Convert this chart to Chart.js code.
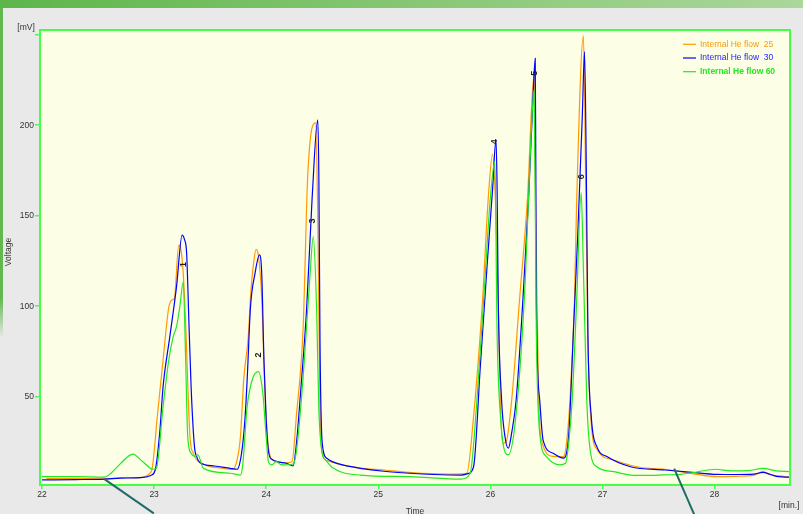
<!DOCTYPE html>
<html>
<head>
<meta charset="utf-8">
<script src="https://cdn.jsdelivr.net/npm/chart.js@4/dist/chart.umd.min.js"></script>
<style>
  html, body { margin: 0; padding: 0; width: 803px; height: 514px; overflow: hidden; background: #e9e9e9; }
  #band { position: absolute; left: 0; top: 0; width: 803px; height: 8px;
          background: linear-gradient(to right, #5db64a, #86c673 50%, #aad79b); }
  #strip { position: absolute; left: 0; top: 8px; width: 3px; height: 330px;
           background: linear-gradient(to bottom, #62b84f 0%, #62b84f 88%, rgba(98,184,79,0) 100%); }
  #wrap { position: absolute; left: 0; top: 0; width: 803px; height: 514px; }
</style>
</head>
<body>
<div id="band"></div>
<div id="strip"></div>
<div id="wrap"><canvas id="chart" width="803" height="514"></canvas></div>
<script>
// Chromatogram: detector voltage vs retention time for three internal He flows

const seriesNames = ['Internal He flow  25', 'Internal He flow  30', 'Internal He flow 60'];

// Internal He flow 25 (orange)
const time25 = [22.04, 22.30, 22.56, 22.70, 22.90, 22.95, 22.98, 23.03, 23.08, 23.13, 23.16, 23.18, 23.22, 23.24, 23.26, 23.28,
  23.32, 23.35, 23.45, 23.60, 23.70, 23.74, 23.77, 23.80, 23.84, 23.86, 23.89, 23.91, 23.93, 23.96, 23.99, 24.02,
  24.06, 24.18, 24.23, 24.27, 24.33, 24.37, 24.44, 24.46, 24.48, 24.50, 24.55, 24.70, 24.84, 25.05, 25.30, 25.60,
  25.75, 25.79, 25.85, 25.93, 25.98, 26.02, 26.05, 26.07, 26.09, 26.11, 26.14, 26.19, 26.26, 26.33, 26.39, 26.405,
  26.43, 26.46, 26.56, 26.65, 26.67, 26.71, 26.75, 26.77, 26.83, 26.85, 26.87, 26.90, 26.95, 27.10, 27.33, 27.56,
  27.80, 28.02, 28.20, 28.35, 28.43, 28.50, 28.57, 28.67];
const flow25 = [4.8, 4.8, 4.6, 5.2, 5.4, 7.0, 9.5, 40, 70.3, 99, 103.4, 104, 133.7, 131, 118, 92.4,
  27.9, 18.7, 12.5, 10.5, 9.8, 15, 27.9, 60, 83, 105.2, 125, 131.4, 128, 105, 50, 22,
  15, 13.5, 14, 40, 88.7, 171.5, 201.4, 150, 42.7, 18.7, 14.5, 12, 10.5, 9.5, 8.0, 7.2,
  7.3, 7.7, 39, 103.4, 158.7, 184, 150, 103, 45, 24.3, 25, 48.2, 103.4, 158.7, 228, 150,
  50, 25, 17, 16.9, 20, 48.2, 103.4, 158.7, 249.3, 170, 80, 35, 21, 15, 11, 9.9,
  7.5, 5.8, 6.0, 6.5, 8.6, 6.8, 6.2, 5.5];

// Internal He flow 30 (blue)
const time30 = [22.00, 22.30, 22.56, 22.70, 22.90, 22.97, 23.01, 23.05, 23.08, 23.14, 23.20, 23.25, 23.27, 23.29, 23.31, 23.33,
  23.36, 23.38, 23.41, 23.54, 23.68, 23.74, 23.78, 23.81, 23.83, 23.86, 23.90, 23.94, 23.96, 23.98, 24.00, 24.02,
  24.05, 24.18, 24.24, 24.27, 24.31, 24.36, 24.41, 24.46, 24.47, 24.48, 24.50, 24.54, 24.59, 24.70, 24.84, 25.05,
  25.28, 25.50, 25.74, 25.80, 25.85, 25.91, 25.97, 26.02, 26.05, 26.06, 26.07, 26.10, 26.13, 26.16, 26.19, 26.23,
  26.29, 26.34, 26.38, 26.40, 26.405, 26.41, 26.44, 26.47, 26.56, 26.65, 26.70, 26.74, 26.78, 26.82, 26.84, 26.855,
  26.87, 26.90, 26.95, 27.04, 27.25, 27.56, 27.80, 28.02, 28.20, 28.35, 28.43, 28.50, 28.57, 28.67];
const flow30 = [4.0, 4.2, 4.5, 5.0, 5.4, 6.5, 9.5, 30, 55.5, 83, 110.8, 139.3, 137, 129.4, 92.4, 55.5,
  22.4, 16.9, 13.5, 11.7, 10.4, 9.9, 18.7, 37.1, 59.2, 99.7, 118, 128.3, 118, 70, 37.1, 20,
  15.4, 13.2, 11.7, 24.3, 55, 97.9, 160, 202.9, 170, 79.5, 24.3, 16, 14.1, 12, 10.4, 8.8,
  7.7, 7.0, 6.7, 7.5, 11.3, 66.6, 121.8, 165, 192.2, 165, 103.4, 48.2, 28, 21.5, 30, 48.2,
  103.4, 158.7, 215, 237, 180, 103.4, 48.2, 26.1, 18.7, 16.0, 29.8, 85, 140.3, 205, 240.6, 180,
  85, 39, 22.4, 16.9, 11.3, 9.5, 8.2, 7.1, 7.0, 7.2, 8.2, 7.0, 5.8, 5.5];

// Internal He flow 60 (green)
const time60 = [22.00, 22.30, 22.56, 22.62, 22.70, 22.81, 22.90, 22.99, 23.02, 23.08, 23.13, 23.17, 23.20, 23.23, 23.26, 23.28,
  23.30, 23.33, 23.36, 23.39, 23.44, 23.68, 23.77, 23.79, 23.83, 23.88, 23.93, 23.97, 24.00, 24.02, 24.05, 24.09,
  24.13, 24.18, 24.24, 24.27, 24.33, 24.39, 24.42, 24.45, 24.47, 24.50, 24.53, 24.60, 24.84, 25.28, 25.74, 25.82,
  25.88, 25.94, 26.00, 26.04, 26.06, 26.09, 26.16, 26.23, 26.31, 26.36, 26.39, 26.41, 26.44, 26.50, 26.62, 26.67,
  26.70, 26.73, 26.77, 26.81, 26.83, 26.86, 26.89, 26.95, 27.10, 27.25, 27.40, 27.55, 27.70, 27.85, 28.01, 28.15,
  28.30, 28.43, 28.55, 28.67];
const flow60 = [5.8, 5.8, 5.6, 8, 13, 18.3, 14, 9.9, 10.4, 44.5, 70, 83.1, 88.7, 100, 113.5, 74,
  27.9, 18.7, 17, 17.8, 10.4, 7.7, 6.7, 12, 44.5, 60.2, 63.8, 51.9, 27.9, 14, 12.3, 14.1,
  12.5, 12.3, 12.8, 20, 61, 116.3, 138.4, 97.9, 42.7, 18.7, 15, 10.4, 6.7, 5.8, 4.5, 7.7,
  48.2, 103.4, 160, 180, 85, 39, 17.8, 40.8, 112.7, 190, 219.4, 85, 29.8, 16.9, 12.3, 13.2,
  25, 48.2, 103.4, 162.7, 120, 48.2, 20.7, 11.3, 8.6, 6.7, 6.5, 6.8, 7.1, 8.5, 9.9, 9.0,
  9.1, 10.4, 9.0, 8.6];

// Peak numbering
const peakNames = ['1', '2', '3', '4', '5', '6'];
const peakTimes = [23.26, 23.93, 24.415, 26.04, 26.39, 26.815];
const peakLabelLevels = [123, 73, 147, 190.9, 228.7, 171.5];

// Axis ticks
const timeTicks = [22, 23, 24, 25, 26, 27, 28];
const voltTicks = [50, 100, 150, 200, 250];

const COLORS = ['#ff9900', '#0000ff', '#22e822'];
const LEGEND_TEXT = ['#f39a10', '#2222ff', '#22e822'];
const FRAME = '#44ff44';
const PLOT_BG = '#fdfee6';
const TEXT = '#333333';
const FONT = '"Liberation Sans", Arial, sans-serif';

const toPoints = (ts, vs) => ts.map((t, i) => ({ x: t, y: vs[i] }));

const decor = {
  id: 'decor',
  beforeDatasetsDraw(chart) {
    const { ctx, chartArea: a } = chart;
    ctx.save();
    ctx.fillStyle = PLOT_BG;
    ctx.fillRect(a.left, a.top, a.right - a.left, a.bottom - a.top);
    ctx.restore();
  },
  afterDraw(chart) {
    const { ctx, chartArea: a, scales } = chart;
    const xs = scales.x, ys = scales.y;
    ctx.save();

    // plot frame
    ctx.strokeStyle = FRAME;
    ctx.lineWidth = 2;
    ctx.strokeRect(a.left, a.top, a.right - a.left, a.bottom - a.top);

    // peak numbers
    ctx.fillStyle = '#1a1a1a';
    ctx.font = 'bold 9px ' + FONT;
    ctx.textAlign = 'center';
    ctx.textBaseline = 'middle';
    peakNames.forEach((n, i) => {
      ctx.save();
      ctx.translate(xs.getPixelForValue(peakTimes[i]), ys.getPixelForValue(peakLabelLevels[i]));
      ctx.rotate(-Math.PI / 2);
      ctx.fillText(n, 0, 0);
      ctx.restore();
    });

    // legend
    const lx = a.right - 107, ly = a.top + 14.3, step = 13.7;
    seriesNames.forEach((name, i) => {
      const y = ly + i * step;
      ctx.strokeStyle = COLORS[i];
      ctx.lineWidth = 1.2;
      ctx.beginPath();
      ctx.moveTo(lx, y);
      ctx.lineTo(lx + 13, y);
      ctx.stroke();
      ctx.fillStyle = LEGEND_TEXT[i];
      ctx.font = (i === 2 ? 'bold ' : '') + '8.5px ' + FONT;
      ctx.textAlign = 'left';
      ctx.textBaseline = 'middle';
      ctx.fillText(name, lx + 17, y);
    });

    // axis titles and units
    ctx.fillStyle = TEXT;
    ctx.font = '8.5px ' + FONT;
    ctx.textAlign = 'center';
    ctx.textBaseline = 'middle';
    ctx.fillText('[mV]', 26, 28);
    ctx.fillText('[min.]', 789, 506);
    ctx.textBaseline = 'top';
    ctx.fillText('Time', 415, 507);
    ctx.save();
    ctx.translate(9, 252);
    ctx.rotate(-Math.PI / 2);
    ctx.textBaseline = 'middle';
    ctx.fillText('Voltage', 0, 0);
    ctx.restore();

    // callout pointers
    ctx.strokeStyle = '#1e6b68';
    ctx.lineWidth = 2;
    [[22.56, 4.3, 49, 34], [27.64, 10.3, 20, 46]].forEach(([t, v, dx, dy]) => {
      const px = xs.getPixelForValue(t), py = ys.getPixelForValue(v);
      ctx.beginPath();
      ctx.moveTo(px, py);
      ctx.lineTo(px + dx, py + dy);
      ctx.stroke();
    });
    ctx.restore();
  }
};

const lineStyle = (i, order) => ({
  label: seriesNames[i],
  borderColor: COLORS[i],
  backgroundColor: COLORS[i],
  borderWidth: 1.2,
  pointRadius: 0,
  fill: false,
  cubicInterpolationMode: 'monotone',
  order
});

new Chart(document.getElementById('chart'), {
  type: 'line',
  data: {
    datasets: [
      Object.assign(lineStyle(0, 3), { data: toPoints(time25, flow25) }),
      Object.assign(lineStyle(1, 2), { data: toPoints(time30, flow30) }),
      Object.assign(lineStyle(2, 1), { data: toPoints(time60, flow60) })
    ]
  },
  options: {
    responsive: false,
    animation: false,
    events: [],
    layout: { padding: { left: 0, top: 30, right: 13, bottom: 0 } },
    plugins: { legend: { display: false }, tooltip: { enabled: false } },
    scales: {
      x: {
        type: 'linear',
        min: 21.982,
        max: 28.673,
        afterBuildTicks: s => { s.ticks = timeTicks.map(v => ({ value: v })); },
        afterFit: s => { s.height = 29; },
        ticks: { color: TEXT, font: { family: FONT, size: 8.5 }, padding: 1, maxRotation: 0, autoSkip: false,
                 callback: v => String(v) },
        grid: { drawOnChartArea: false, color: FRAME, tickLength: 4, lineWidth: 1.5 },
        border: { display: false }
      },
      y: {
        type: 'linear',
        min: 1.2,
        max: 252.6,
        afterBuildTicks: s => { s.ticks = voltTicks.map(v => ({ value: v })); },
        afterFit: s => { s.width = 40; },
        ticks: { color: TEXT, font: { family: FONT, size: 8.5 }, padding: 1, autoSkip: false,
                 callback: v => (v === 250 ? '' : String(v)) },
        grid: { drawOnChartArea: false, color: FRAME, tickLength: 5, lineWidth: 1.5 },
        border: { display: false }
      }
    }
  },
  plugins: [decor]
});
</script>
</body>
</html>
